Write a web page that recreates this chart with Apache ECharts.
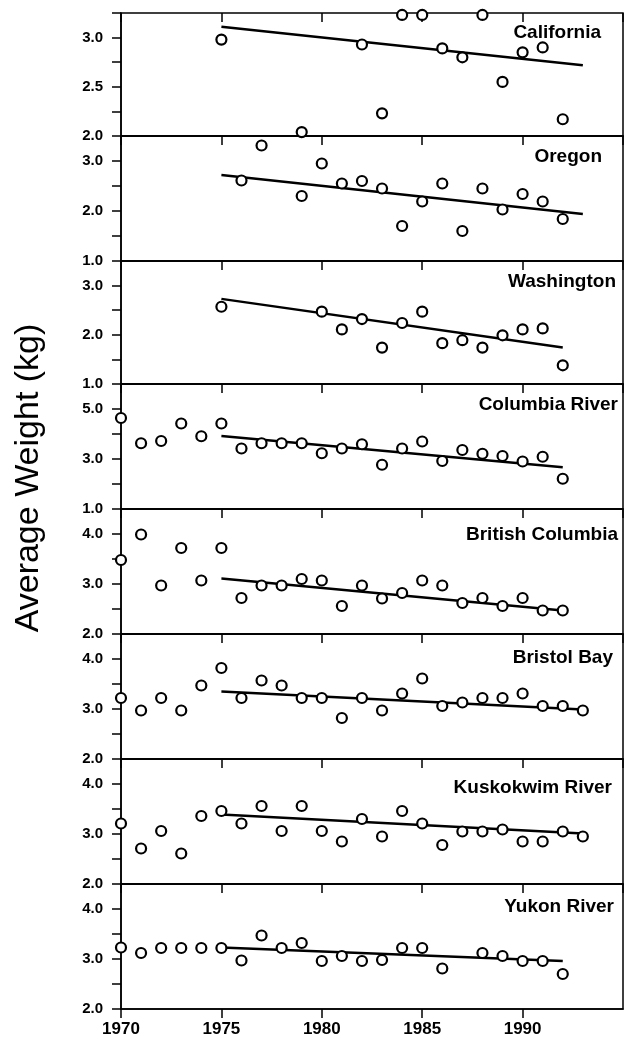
<!DOCTYPE html>
<html><head><meta charset="utf-8">
<script src="https://cdn.jsdelivr.net/npm/echarts@6/dist/echarts.min.js"></script>
<style>html,body{margin:0;padding:0;background:#fff}#c{width:624px;height:1039px}</style>
</head><body><div id="c"></div>
<script>
// ---- data ----
const regions = ['California','Oregon','Washington','Columbia River','British Columbia','Bristol Bay','Kuskokwim River','Yukon River'];
const yearTicks = [1970, 1975, 1980, 1985, 1990];

const caYears   = [1975,1979,1982,1983,1984,1985,1986,1987,1988,1989,1990,1991,1992];
const caWeights = [2.98,2.04,2.93,2.23,3.23,3.23,2.89,2.80,3.23,2.55,2.85,2.90,2.17];
const caTrend   = [[1975,3.11],[1993,2.72]];

const orYears   = [1976,1977,1979,1980,1981,1982,1983,1984,1985,1986,1987,1988,1989,1990,1991,1992];
const orWeights = [2.61,3.31,2.30,2.95,2.55,2.60,2.45,1.70,2.19,2.55,1.60,2.45,2.03,2.34,2.19,1.84];
const orTrend   = [[1975,2.72],[1993,1.94]];

const waYears   = [1975,1980,1981,1982,1983,1984,1985,1986,1987,1988,1989,1990,1991,1992];
const waWeights = [2.57,2.47,2.11,2.32,1.74,2.24,2.47,1.83,1.89,1.74,1.99,2.11,2.13,1.38];
const waTrend   = [[1975,2.73],[1992,1.74]];

const crYears   = [1970,1971,1972,1973,1974,1975,1976,1977,1978,1979,1980,1981,1982,1983,1984,1985,1986,1987,1988,1989,1990,1991,1992];
const crWeights = [4.64,3.63,3.72,4.42,3.91,4.42,3.42,3.63,3.63,3.63,3.23,3.42,3.59,2.77,3.42,3.70,2.92,3.36,3.21,3.12,2.90,3.09,2.21];
const crTrend   = [[1975,3.92],[1992,2.67]];

const bcYears   = [1970,1971,1972,1973,1974,1975,1976,1977,1978,1979,1980,1981,1982,1983,1984,1985,1986,1987,1988,1989,1990,1991,1992];
const bcWeights = [3.48,3.99,2.97,3.72,3.07,3.72,2.72,2.97,2.97,3.10,3.07,2.56,2.97,2.71,2.82,3.07,2.97,2.62,2.72,2.56,2.72,2.47,2.47];
const bcTrend   = [[1975,3.11],[1992,2.47]];

const bbYears   = [1970,1971,1972,1973,1974,1975,1976,1977,1978,1979,1980,1981,1982,1983,1984,1985,1986,1987,1988,1989,1990,1991,1992,1993];
const bbWeights = [3.22,2.97,3.22,2.97,3.47,3.82,3.22,3.57,3.47,3.22,3.22,2.82,3.22,2.97,3.31,3.61,3.06,3.13,3.22,3.22,3.31,3.06,3.06,2.97];
const bbTrend   = [[1975,3.35],[1993,2.99]];

const krYears   = [1970,1971,1972,1973,1974,1975,1976,1977,1978,1979,1980,1981,1982,1983,1984,1985,1986,1987,1988,1989,1990,1991,1992,1993];
const krWeights = [3.21,2.71,3.06,2.61,3.36,3.46,3.21,3.56,3.06,3.56,3.06,2.85,3.30,2.95,3.46,3.21,2.78,3.05,3.05,3.09,2.85,2.85,3.05,2.95];
const krTrend   = [[1975,3.39],[1993,3.01]];

const yrYears   = [1970,1971,1972,1973,1974,1975,1976,1977,1978,1979,1980,1981,1982,1983,1984,1985,1986,1988,1989,1990,1991,1992];
const yrWeights = [3.23,3.12,3.22,3.22,3.22,3.22,2.97,3.47,3.22,3.32,2.96,3.06,2.96,2.98,3.22,3.22,2.81,3.12,3.06,2.96,2.96,2.70];
const yrTrend   = [[1975,3.23],[1992,2.96]];

const yMins      = [2.0, 1.0, 1.0, 1.0, 2.0, 2.0, 2.0, 2.0];
const yMaxs      = [3.25,3.5, 3.5, 6.0, 4.5, 4.5, 4.5, 4.5];
const yIntervals = [0.5, 1.0, 1.0, 2.0, 1.0, 1.0, 1.0, 1.0];

const allYears   = [caYears,orYears,waYears,crYears,bcYears,bbYears,krYears,yrYears];
const allWeights = [caWeights,orWeights,waWeights,crWeights,bcWeights,bbWeights,krWeights,yrWeights];
const allTrends  = [caTrend,orTrend,waTrend,crTrend,bcTrend,bbTrend,krTrend,yrTrend];

// ---- layout ----
const gridTops    = [13, 136, 261, 384, 509, 634, 759, 884];
const gridHeights = [123, 125, 123, 125, 125, 125, 125, 125];
const titleCenters = [33, 157, 282, 405, 535, 658, 788, 907];
const titleRights  = [23, 22, 8, 6, 6, 11, 12, 10];
const FONT = '"Liberation Sans", Arial, sans-serif';

const grids = [], xAxes = [], yAxes = [], series = [], titles = [];
for (let i = 0; i < 8; i++) {
  grids.push({left: 121, width: 502, top: gridTops[i], height: gridHeights[i],
    show: true, borderColor: '#000', borderWidth: 1.5, backgroundColor: 'transparent'});
  const last = i === 7;
  xAxes.push({type: 'value', gridIndex: i, min: 1970, max: 1995, interval: 5,
    axisLine: {show: true, onZero: false, lineStyle: {color: '#000', width: 1.5}},
    axisTick: {show: true, inside: false, length: 9, lineStyle: {color: '#000', width: 1.5}},
    axisLabel: {show: last, color: '#000', fontFamily: FONT, fontWeight: 'bold', fontSize: 17, margin: 12,
      showMaxLabel: false, formatter: v => String(v)},
    splitLine: {show: false}});
  yAxes.push({type: 'value', gridIndex: i, min: yMins[i], max: yMaxs[i], interval: yIntervals[i],
    axisLine: {show: true, onZero: false, lineStyle: {color: '#000', width: 1.5}},
    axisTick: {show: true, inside: false, length: 9, lineStyle: {color: '#000', width: 1.5}},
    minorTick: {show: true, splitNumber: 2, length: 9, lineStyle: {color: '#000', width: 1.5}},
    axisLabel: {color: '#000', fontFamily: FONT, fontWeight: 'bold', fontSize: 15, margin: 18,
      showMaxLabel: false, formatter: v => v.toFixed(1)},
    splitLine: {show: false}});
  titles.push({text: regions[i], right: titleRights[i], top: titleCenters[i] - 10, padding: 0,
    textStyle: {fontFamily: FONT, fontWeight: 'bold', fontSize: 19, color: '#000'}});
  series.push({type: 'line', xAxisIndex: i, yAxisIndex: i, data: allTrends[i], symbol: 'none',
    lineStyle: {color: '#000', width: 2.5}, z: 2, silent: true});
  series.push({type: 'scatter', xAxisIndex: i, yAxisIndex: i,
    data: allYears[i].map((y, k) => [y, allWeights[i][k]]),
    symbol: 'circle', symbolSize: 10,
    itemStyle: {color: '#fff', borderColor: '#000', borderWidth: 2.2, opacity: 1}, z: 3});
}
// ticks on top edge of the first panel
xAxes.push({type: 'value', gridIndex: 0, position: 'top', min: 1970, max: 1995, interval: 5,
  axisLine: {show: false}, axisTick: {show: true, inside: true, length: 9, lineStyle: {color: '#000', width: 1.5}},
  axisLabel: {show: false}, splitLine: {show: false}});

const chart = echarts.init(document.getElementById('c'), null, {renderer: 'canvas'});
chart.setOption({
  animation: false,
  backgroundColor: '#fff',
  title: titles,
  grid: grids,
  xAxis: xAxes,
  yAxis: yAxes,
  series: series,
  graphic: [{type: 'text', x: 29, y: 478, rotation: Math.PI / 2,
    style: {text: 'Average Weight (kg)', font: '34px "Liberation Sans", Arial, sans-serif',
      fill: '#000', textAlign: 'center', textVerticalAlign: 'middle'}}]
});
</script></body></html>
